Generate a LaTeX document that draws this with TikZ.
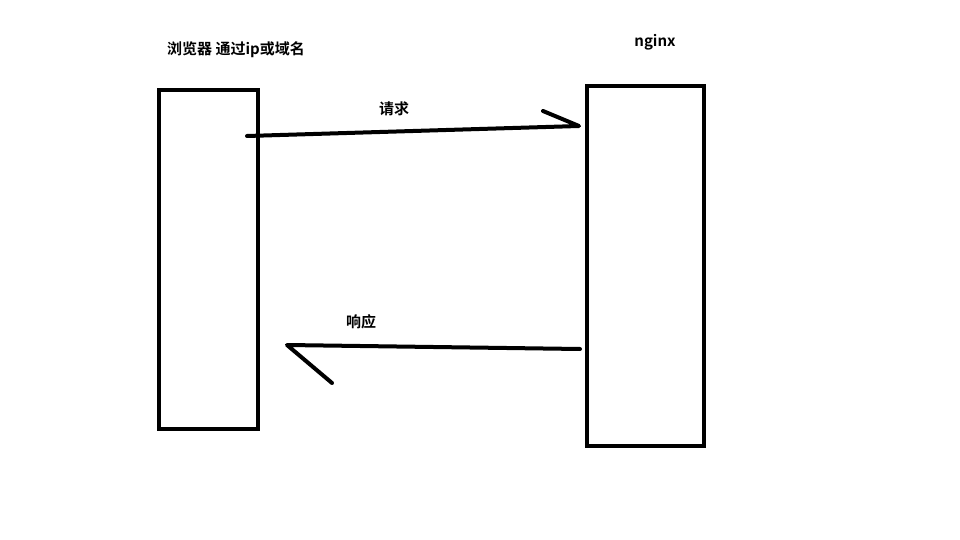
\documentclass[tikz,border=0pt]{standalone}
\usepackage{fontspec}
\newfontfamily\cjk{Noto Sans CJK SC Bold}
\tikzset{
  box/.style={draw=black, line width=4pt, fill=white, outer sep=0pt},
  stroke/.style={draw=black, line width=4pt, line cap=round, line join=round},
  lbl/.style={font=\cjk\fontsize{15}{17}\selectfont, inner sep=0pt}
}
\begin{document}
\begin{tikzpicture}[x=1pt,y=-1pt]
\useasboundingbox[fill=white] (0,0) rectangle (960,540);
\node[box, minimum width=99pt, minimum height=339pt, anchor=north west] (browser) at (159,90) {};
\node[box, minimum width=117pt, minimum height=360pt, anchor=north west] (nginx) at (587,86) {};
\node[lbl] (browserlbl) at (236,50) {浏览器 通过ip或域名};
\node[lbl] (nginxlbl) at (655,42) {nginx};
\node[lbl] (reqlbl) at (394,109) {请求};
\node[lbl] (resplbl) at (361,322) {响应};
\coordinate (reqstart) at (247,136);
\coordinate (reqend) at (579,126);
\coordinate (reqhead) at (543,111);
\coordinate (respstart) at (580,349);
\coordinate (respend) at (287,345);
\coordinate (resphead) at (332,383);
\draw[stroke] (reqstart) -- (reqend) -- (reqhead);
\draw[stroke] (respstart) -- (respend) -- (resphead);
\end{tikzpicture}
\end{document}
